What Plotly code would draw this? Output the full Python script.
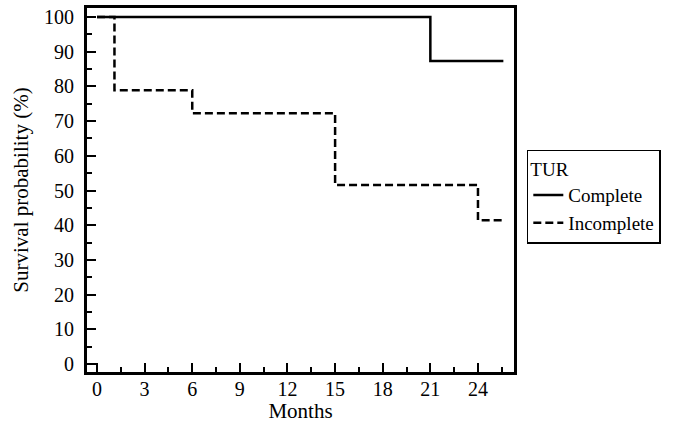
import plotly.graph_objects as go

# Kaplan-Meier steps
complete_months = [0, 21, 25.6]
complete_surv = [100, 87.3, 87.3]
incomplete_months = [0, 1.1, 6, 15, 24, 25.6]
incomplete_surv = [100, 78.9, 72.3, 51.6, 41.4, 41.4]

FONT = "Liberation Serif, Times New Roman, serif"

fig = go.Figure()
fig.add_trace(go.Scatter(
    x=complete_months, y=complete_surv, mode="lines", name="Complete",
    line=dict(color="black", width=2.5, shape="hv"),
))
fig.add_trace(go.Scatter(
    x=incomplete_months, y=incomplete_surv, mode="lines", name="Incomplete",
    line=dict(color="black", width=2.5, shape="hv", dash="8px,4px"),
))

axis_common = dict(
    showline=True, linecolor="black", linewidth=3, mirror=True,
    showgrid=False, zeroline=False,
    ticks="inside", ticklen=9, tickwidth=2, tickcolor="black",
    tickfont=dict(family=FONT, size=20, color="black"),
)

fig.update_layout(
    width=691, height=423,
    margin=dict(l=87, r=177, t=8, b=51, autoexpand=False),
    plot_bgcolor="white", paper_bgcolor="white",
    font=dict(family=FONT, color="black"),
    xaxis=dict(
        **axis_common, range=[-0.63, 26.27], tick0=0, dtick=3,
        minor=dict(ticks="inside", ticklen=5, tickwidth=2, tickcolor="black", dtick=1.5, tick0=0),
        title=dict(text="Months", font=dict(family=FONT, size=21), standoff=5),
        ticklabelstandoff=-3,
    ),
    yaxis=dict(
        **axis_common, range=[-2.3, 102.6], tick0=0, dtick=10,
        minor=dict(ticks="inside", ticklen=5, tickwidth=2, tickcolor="black", dtick=5, tick0=0),
        title=dict(text="Survival probability (%)", font=dict(family=FONT, size=21), standoff=10),
        ticklabelstandoff=6,
    ),
    legend=dict(
        x=1.03, y=0.61, xanchor="left", yanchor="top",
        bordercolor="black", borderwidth=1.5, bgcolor="white",
        font=dict(family=FONT, size=19, color="black"),
        title=dict(text="TUR", side="top", font=dict(family=FONT, size=19)),
        tracegroupgap=0, itemwidth=30,
    ),
)

fig.write_html("out.html", config={"displayModeBar": False},
               post_script="document.body.style.margin='0';")
